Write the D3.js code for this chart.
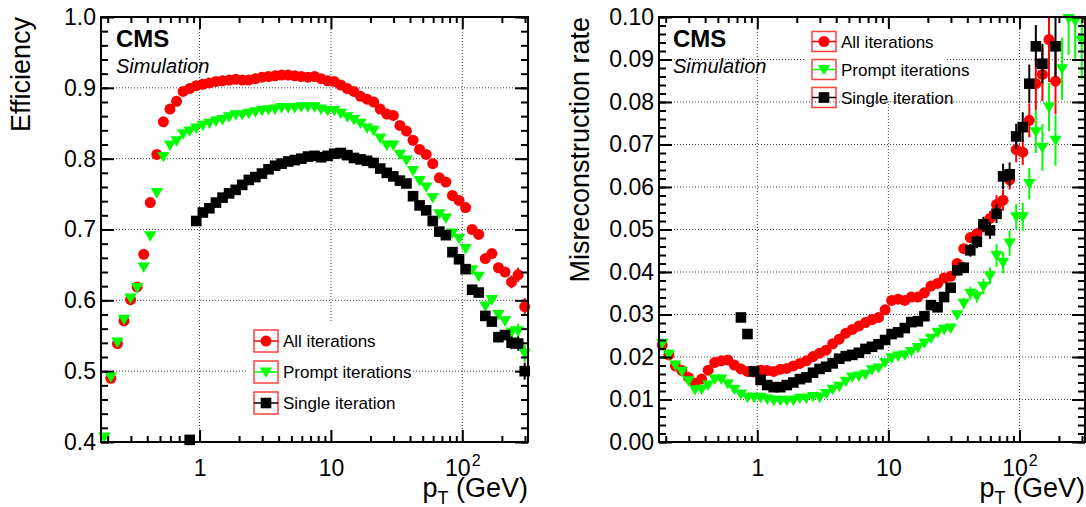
<!DOCTYPE html>
<html>
<head>
<meta charset="utf-8">
<script src="https://cdn.jsdelivr.net/npm/d3@7"></script>
<style>
body { margin: 0; background: #fff; }
svg text { font-family: "Liberation Sans", Arial, Helvetica, sans-serif; }
</style>
</head>
<body>
<div id="chart"></div>
<script>
// pT binning: 20 log bins per decade, from 10^-0.75 to 10^2.5 GeV
var nBins = 65;
var ptCenters = d3.range(nBins).map(i => Math.pow(10, -0.725 + 0.05 * i));
var ptRange = [Math.pow(10, -0.75), Math.pow(10, 2.5)];

// efficiency (left panel)
var effAll = [null, 0.490, 0.539, 0.571, 0.601, 0.619, 0.665, 0.738, 0.806, 0.852,
  0.870, 0.881, 0.895, 0.899, 0.903, 0.905, 0.907, 0.909, 0.910, 0.911,
  0.912, 0.911, 0.911, 0.913, 0.915, 0.916, 0.917, 0.918, 0.918, 0.917,
  0.916, 0.915, 0.916, 0.913, 0.910, 0.909, 0.904, 0.899, 0.895, 0.888,
  0.884, 0.880, 0.870, 0.863, 0.861, 0.847, 0.839, 0.826, 0.813, 0.806,
  0.793, 0.773, 0.767, 0.748, 0.741, 0.731, 0.700, 0.693, 0.659, 0.666,
  0.646, 0.640, 0.626, 0.636, 0.591];
var effPrompt = [0.407, 0.492, 0.541, 0.573, 0.603, 0.618, 0.647, 0.691, 0.752, 0.803,
  0.819, 0.825, 0.835, 0.839, 0.843, 0.847, 0.850, 0.853, 0.855, 0.859,
  0.862, 0.862, 0.864, 0.866, 0.868, 0.869, 0.870, 0.872, 0.872, 0.872,
  0.873, 0.873, 0.873, 0.870, 0.868, 0.868, 0.864, 0.859, 0.855, 0.850,
  0.843, 0.840, 0.829, 0.819, 0.819, 0.806, 0.798, 0.783, 0.769, 0.760,
  0.745, 0.722, 0.716, 0.695, 0.687, 0.673, 0.643, 0.634, 0.592, 0.601,
  0.580, 0.571, 0.555, 0.557, 0.525];
var effSingle = [null, null, null, null, null, null, null, null, null, null,
  null, null, null, 0.403, 0.712, 0.724, 0.730, 0.738, 0.745, 0.751,
  0.756, 0.763, 0.770, 0.774, 0.779, 0.785, 0.790, 0.793, 0.796, 0.798,
  0.800, 0.803, 0.804, 0.802, 0.804, 0.807, 0.808, 0.805, 0.801, 0.799,
  0.797, 0.794, 0.786, 0.780, 0.775, 0.769, 0.765, 0.747, 0.734, 0.727,
  0.712, 0.697, 0.692, 0.668, 0.658, 0.644, 0.615, 0.611, 0.578, 0.570,
  0.548, 0.551, 0.540, 0.539, 0.500];
// stat. errors on efficiency, bins 50..64 (same for all three)
var effErrStart = 50;
var effErr = [0.003, 0.003, 0.003, 0.004, 0.004, 0.004, 0.005, 0.005, 0.006, 0.006,
  0.007, 0.007, 0.009, 0.010, 0.012];

// misreconstruction rate (right panel)
var fakeAll = [0.0228, 0.0205, 0.0179, 0.0168, 0.0152, 0.0138, 0.0148, 0.0169, 0.0187, 0.0191,
  0.0193, 0.0181, 0.0172, 0.0166, 0.0165, 0.0169, 0.0168, 0.0166, 0.0171, 0.0173,
  0.0179, 0.0185, 0.0191, 0.0201, 0.0209, 0.0216, 0.0231, 0.0242, 0.0256, 0.0265,
  0.0273, 0.0281, 0.0288, 0.0293, 0.0311, 0.0333, 0.0336, 0.0333, 0.0341, 0.0341,
  0.0351, 0.0367, 0.0373, 0.0386, 0.0390, 0.0420, 0.0455, 0.0481, 0.0490, 0.0508,
  0.0526, 0.0559, 0.0569, 0.0617, 0.0688, 0.0682, 0.0757, 0.0843, 0.0865, 0.0947,
  0.0849, null, null, null, null];
var fakePrompt = [0.0232, 0.0206, 0.0181, 0.0166, 0.0144, 0.0123, 0.0124, 0.0134, 0.0148, 0.0148,
  0.0137, 0.0124, 0.0113, 0.0105, 0.0105, 0.0105, 0.0101, 0.0098, 0.0098, 0.0098,
  0.0098, 0.0103, 0.0103, 0.0107, 0.0105, 0.0114, 0.0124, 0.0131, 0.0143, 0.0153,
  0.0155, 0.0159, 0.0170, 0.0174, 0.0187, 0.0198, 0.0202, 0.0205, 0.0213, 0.0222,
  0.0233, 0.0244, 0.0258, 0.0265, 0.0268, 0.0299, 0.0326, 0.0350, 0.0343, 0.0366,
  0.0391, 0.0439, 0.0422, 0.0468, 0.0530, 0.0530, 0.0608, 0.0730, 0.0693, 0.0788,
  0.0710, 0.0878, 0.0996, 0.0991, 0.0945];
var fakeSingle = [null, null, null, null, null, null, null, null, null, null,
  null, null, 0.0293, 0.0254, 0.0166, 0.0146, 0.0134, 0.0129, 0.0129, 0.0134,
  0.0140, 0.0148, 0.0152, 0.0163, 0.0172, 0.0177, 0.0185, 0.0196, 0.0202, 0.0205,
  0.0210, 0.0219, 0.0224, 0.0230, 0.0240, 0.0254, 0.0258, 0.0268, 0.0282, 0.0284,
  0.0296, 0.0322, 0.0317, 0.0341, 0.0363, 0.0404, 0.0410, 0.0451, 0.0471, 0.0512,
  0.0498, 0.0537, 0.0625, 0.0630, 0.0719, 0.0741, 0.0843, 0.0931, 0.0890, null,
  0.0931, null, null, null, null];
// stat. errors, bins 44..64
var fakeErrStart = 44;
var fakeAllErr = [0.0008, 0.0009, 0.001, 0.0012, 0.0013, 0.0015, 0.0018, 0.0022, 0.0025, 0.0023,
  0.003, 0.003, 0.004, 0.0063, 0.0063, 0.01, 0.0078, 0, 0, 0, 0];
var fakePromptErr = [0.0008, 0.001, 0.0013, 0.0015, 0.0015, 0.0018, 0.002, 0.0027, 0.0025, 0.003,
  0.003, 0.0033, 0.0037, 0.005, 0.0055, 0.0057, 0.006, 0.0073, 0.0085, 0.0095, 0.0092];
var fakeSingleErr = [0.001, 0.0012, 0.0013, 0.0015, 0.0015, 0.0018, 0.002, 0.0022, 0.003, 0.0028,
  0.003, 0.0035, 0.0045, 0.005, 0.0047, 0, 0.0072, 0, 0, 0, 0];

var seriesNames = ["All iterations", "Prompt iterations", "Single iteration"];
var seriesColors = ["#ff0000", "#00ff00", "#000000"];
var seriesShapes = ["circle", "triangle", "square"];

// axis ticks
var xTickValues = [1, 10, 100];
var xTickLabels = ["1", "10", "10^2"];
var xMinorTicks = [0.2, 0.3, 0.4, 0.5, 0.6, 0.7, 0.8, 0.9, 2, 3, 4, 5, 6, 7, 8, 9,
  20, 30, 40, 50, 60, 70, 80, 90, 200, 300];
var effTicks = [0.4, 0.5, 0.6, 0.7, 0.8, 0.9, 1.0];
var fakeTicks = [0, 0.01, 0.02, 0.03, 0.04, 0.05, 0.06, 0.07, 0.08, 0.09, 0.10];

var svg = d3.select("#chart").append("svg")
  .attr("width", 1086)
  .attr("height", 507);

function marker(sel, shape, color) {
  if (shape == "circle") {
    sel.append("circle").attr("r", 5.5).attr("fill", color);
  } else if (shape == "square") {
    sel.append("rect").attr("x", -5.3).attr("y", -5.3).attr("width", 10.6).attr("height", 10.6).attr("fill", color);
  } else {
    sel.append("path").attr("d", "M-6.2,-4.6L6.2,-4.6L0,5.8Z").attr("fill", color);
  }
}

function drawPanel(p) {
  var x = d3.scaleLog().domain(ptRange).range([p.left, p.right]);
  var y = d3.scaleLinear().domain(p.yDomain).range([p.bottom, p.top]);
  var g = svg.append("g");

  // grid
  g.append("g").selectAll("line.gx")
    .data(xTickValues).enter().append("line")
    .attr("x1", d => x(d)).attr("x2", d => x(d))
    .attr("y1", p.top).attr("y2", p.bottom)
    .attr("stroke", "#444").attr("stroke-width", 1).attr("stroke-dasharray", "1,2");
  g.append("g").selectAll("line.gy")
    .data(p.yTicks.slice(1, -1)).enter().append("line")
    .attr("x1", p.left).attr("x2", p.right)
    .attr("y1", d => y(d)).attr("y2", d => y(d))
    .attr("stroke", "#444").attr("stroke-width", 1).attr("stroke-dasharray", "1,2");

  // legend background hides grid
  g.append("rect")
    .attr("x", p.legBg[0]).attr("y", p.legBg[1])
    .attr("width", p.legBg[2]).attr("height", p.legBg[3])
    .attr("fill", "#fff");

  // clip for error bars
  var clipId = "clip" + p.id;
  svg.append("clipPath").attr("id", clipId).append("rect")
    .attr("x", p.left).attr("y", p.top)
    .attr("width", p.right - p.left).attr("height", p.bottom - p.top);

  p.series.forEach(function(vals, si) {
    var errs = p.errors[si];
    var pts = vals.map((v, i) => ({pt: ptCenters[i], v: v, e: (i >= p.errStart ? errs[i - p.errStart] : 0)}))
      .filter(d => d.v !== null);
    g.append("g").attr("clip-path", "url(#" + clipId + ")")
      .selectAll("line")
      .data(pts.filter(d => d.e > 0)).enter().append("line")
      .attr("x1", d => x(d.pt)).attr("x2", d => x(d.pt))
      .attr("y1", d => y(d.v - d.e)).attr("y2", d => y(d.v + d.e))
      .attr("stroke", seriesColors[si]).attr("stroke-width", 2);
    g.append("g").selectAll("g")
      .data(pts).enter().append("g")
      .attr("transform", d => `translate(${x(d.pt)},${y(d.v)})`)
      .each(function() { marker(d3.select(this), seriesShapes[si], seriesColors[si]); });
  });

  // axes: ticks point into the frame, ROOT style
  function styleAxis(a) {
    a.select(".domain").remove();
    a.selectAll(".tick line").attr("stroke", "#000").attr("stroke-width", 2);
    a.attr("font-family", null).attr("font-size", 23);
    a.selectAll("text").attr("fill", "#000");
  }
  g.append("g").attr("transform", `translate(${p.left},0)`)
    .call(d3.axisLeft(y).tickValues(p.yTicks).tickSize(-13).tickPadding(5).tickFormat(p.fmt))
    .call(styleAxis);
  g.append("g").attr("transform", `translate(${p.left},0)`)
    .call(d3.axisLeft(y).tickValues(p.yMinor).tickSize(-7).tickFormat(""))
    .call(styleAxis);
  g.append("g").attr("transform", `translate(${p.right},0)`)
    .call(d3.axisRight(y).tickValues(p.yTicks).tickSize(-13).tickFormat(""))
    .call(styleAxis);
  g.append("g").attr("transform", `translate(${p.right},0)`)
    .call(d3.axisRight(y).tickValues(p.yMinor).tickSize(-7).tickFormat(""))
    .call(styleAxis);

  g.append("g").attr("transform", `translate(0,${p.bottom})`)
    .call(d3.axisBottom(x).tickValues(xTickValues).tickSize(-12).tickPadding(18).tickFormat((d, i) => xTickLabels[i]))
    .call(styleAxis)
    .selectAll(".tick text").each(function(d, i) {
      var t = d3.select(this);
      var parts = xTickLabels[i].split("^");
      t.text(null);
      t.append("tspan").text(parts[0]);
      if (parts[1]) t.append("tspan").attr("font-size", 16).attr("dx", 1).attr("dy", -10).text(parts[1]);
    });
  g.append("g").attr("transform", `translate(0,${p.bottom})`)
    .call(d3.axisBottom(x).tickValues(xMinorTicks).tickSize(-6).tickFormat(""))
    .call(styleAxis);
  g.append("g").attr("transform", `translate(0,${p.top})`)
    .call(d3.axisTop(x).tickValues(xTickValues).tickSize(-12).tickFormat(""))
    .call(styleAxis);
  g.append("g").attr("transform", `translate(0,${p.top})`)
    .call(d3.axisTop(x).tickValues(xMinorTicks).tickSize(-6).tickFormat(""))
    .call(styleAxis);

  // frame
  g.append("rect")
    .attr("x", p.left).attr("y", p.top)
    .attr("width", p.right - p.left).attr("height", p.bottom - p.top)
    .attr("fill", "none").attr("stroke", "#000").attr("stroke-width", 2);

  // axis titles
  var xt = g.append("text")
    .attr("x", p.right).attr("y", 497)
    .attr("text-anchor", "end").attr("font-size", 27);
  xt.append("tspan").text("p");
  xt.append("tspan").attr("font-size", 18).attr("dy", 7).text("T");
  xt.append("tspan").attr("dy", -7).text(" (GeV)");

  g.append("text")
    .attr("transform", `translate(${p.yTitleX},${p.top}) rotate(-90)`)
    .attr("text-anchor", "end").attr("font-size", 27)
    .text(p.yTitle);

  // CMS label
  g.append("text").attr("x", p.cmsX).attr("y", 47)
    .attr("font-size", 24).attr("font-weight", "bold").text("CMS");
  g.append("text").attr("x", p.cmsX).attr("y", 73)
    .attr("font-size", 20).attr("font-style", "italic").text("Simulation");

  // legend
  var L = p.legend;
  seriesNames.forEach(function(name, si) {
    var cy = L.y + si * L.dy;
    var e = g.append("g").attr("transform", `translate(${L.x},${cy})`);
    e.append("rect").attr("x", 0).attr("y", -L.h / 2).attr("width", L.w).attr("height", L.h)
      .attr("fill", "none").attr("stroke", "#ff4040").attr("stroke-width", 1.5);
    e.append("line").attr("x1", 0).attr("x2", L.w).attr("y1", 0).attr("y2", 0)
      .attr("stroke", seriesColors[si]).attr("stroke-width", 1.5);
    var m = e.append("g").attr("transform", `translate(${L.w / 2},0)`);
    marker(m, seriesShapes[si], seriesColors[si]);
    e.append("text").attr("x", L.w + 5).attr("y", 6).attr("font-size", 17).text(name);
  });
}

drawPanel({
  id: "L", left: 101, right: 528, top: 17, bottom: 442,
  yDomain: [0.4, 1.0], yTicks: effTicks,
  yMinor: d3.range(0, 31).map(i => 0.4 + i * 0.02),
  fmt: d3.format(".1f"),
  yTitle: "Efficiency", yTitleX: 30,
  series: [effAll, effPrompt, effSingle],
  errors: [effErr, effErr, effErr], errStart: effErrStart,
  legend: {x: 254, y: 341, dy: 31, w: 24, h: 22},
  legBg: [248, 323, 164, 106],
  cmsX: 116
});

drawPanel({
  id: "R", left: 659, right: 1085, top: 17, bottom: 442,
  yDomain: [0, 0.1], yTicks: fakeTicks,
  yMinor: d3.range(0, 51).map(i => i * 0.002),
  fmt: d3.format(".2f"),
  yTitle: "Misreconstruction rate", yTitleX: 589,
  series: [fakeAll, fakePrompt, fakeSingle],
  errors: [fakeAllErr, fakePromptErr, fakeSingleErr], errStart: fakeErrStart,
  legend: {x: 812, y: 41.5, dy: 28, w: 24, h: 20},
  legBg: [806, 25, 139, 76],
  cmsX: 673
});
</script>
</body>
</html>
